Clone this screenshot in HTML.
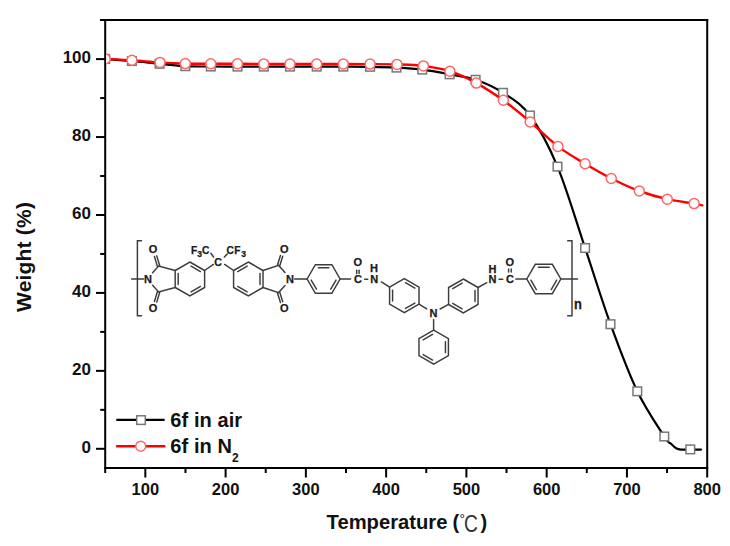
<!DOCTYPE html>
<html><head><meta charset="utf-8"><title>TGA curves</title>
<style>html,body{margin:0;padding:0;background:#fff;width:730px;height:546px;overflow:hidden}
svg{display:block;font-family:"Liberation Sans",sans-serif}</style></head>
<body><svg width="730" height="546" viewBox="0 0 730 546"><g stroke="#000" stroke-width="2" fill="none" stroke-linecap="butt">
<path d="M100,20.1 H708.2"/>
<path d="M105.2,19.1 V473"/>
<path d="M707.2,19.1 V477.5"/>
<path d="M104.2,468 H708.2"/>
<path d="M145.33,468 V477.50"/>
<path d="M185.47,468 V473.00"/>
<path d="M225.60,468 V477.50"/>
<path d="M265.73,468 V473.00"/>
<path d="M305.87,468 V477.50"/>
<path d="M346.00,468 V473.00"/>
<path d="M386.13,468 V477.50"/>
<path d="M426.27,468 V473.00"/>
<path d="M466.40,468 V477.50"/>
<path d="M506.53,468 V473.00"/>
<path d="M546.67,468 V477.50"/>
<path d="M586.80,468 V473.00"/>
<path d="M626.94,468 V477.50"/>
<path d="M667.07,468 V473.00"/>
<path d="M105.2,448.80 H96.00"/>
<path d="M105.2,409.83 H100.20"/>
<path d="M105.2,370.86 H96.00"/>
<path d="M105.2,331.89 H100.20"/>
<path d="M105.2,292.92 H96.00"/>
<path d="M105.2,253.95 H100.20"/>
<path d="M105.2,214.98 H96.00"/>
<path d="M105.2,176.01 H100.20"/>
<path d="M105.2,137.04 H96.00"/>
<path d="M105.2,98.07 H100.20"/>
<path d="M105.2,59.10 H96.00"/>
</g>
<g font-family="Liberation Sans" font-weight="bold" font-size="16.5" fill="#111">
<text x="145.33" y="495" text-anchor="middle">100</text>
<text x="225.60" y="495" text-anchor="middle">200</text>
<text x="305.87" y="495" text-anchor="middle">300</text>
<text x="386.13" y="495" text-anchor="middle">400</text>
<text x="466.40" y="495" text-anchor="middle">500</text>
<text x="546.67" y="495" text-anchor="middle">600</text>
<text x="626.94" y="495" text-anchor="middle">700</text>
<text x="707.20" y="495" text-anchor="middle">800</text>
<text x="91" y="453.00" text-anchor="end" font-size="17">0</text>
<text x="91" y="375.06" text-anchor="end" font-size="17">20</text>
<text x="91" y="297.12" text-anchor="end" font-size="17">40</text>
<text x="91" y="219.18" text-anchor="end" font-size="17">60</text>
<text x="91" y="141.24" text-anchor="end" font-size="17">80</text>
<text x="91" y="63.30" text-anchor="end" font-size="17">100</text>
</g>
<text x="326.6" y="529.4" font-family="Liberation Sans" font-weight="bold" font-size="20.2" fill="#111">Temperature</text>
<text x="452.6" y="529.4" font-family="Liberation Sans" font-weight="bold" font-size="20" fill="#111">(</text>
<circle cx="462.3" cy="516.1" r="1.6" fill="none" stroke="#444" stroke-width="1.0"/>
<text transform="translate(464.0,532.0) scale(0.82,1)" font-family="Liberation Sans" font-size="23.5" fill="#333">C</text>
<text x="480.4" y="529.4" font-family="Liberation Sans" font-weight="bold" font-size="20" fill="#111">)</text>
<text transform="translate(31.2,312.0) rotate(-90)" x="0" y="0" font-family="Liberation Sans" font-weight="bold" font-size="21" letter-spacing="0.2" fill="#111">Weight (%)</text>
<defs><clipPath id="pc"><rect x="106.2" y="21.1" width="600" height="446"/></clipPath></defs>
<g clip-path="url(#pc)">
<path d="M105.20,58.90 C109.65,59.25 122.83,60.18 131.90,61.00 C140.97,61.82 150.70,62.93 159.60,63.80 C168.50,64.67 176.77,65.75 185.30,66.20 C193.83,66.65 202.10,66.43 210.80,66.50 C219.50,66.57 228.67,66.58 237.50,66.60 C246.33,66.62 255.05,66.60 263.80,66.60 C272.55,66.60 281.18,66.60 290.00,66.60 C298.82,66.60 307.82,66.60 316.70,66.60 C325.58,66.60 334.40,66.57 343.30,66.60 C352.20,66.63 361.23,66.63 370.10,66.80 C378.97,66.97 387.80,67.13 396.50,67.60 C405.20,68.07 413.45,68.48 422.30,69.60 C431.15,70.72 440.72,72.60 449.60,74.30 C458.48,76.00 466.70,76.72 475.60,79.80 C484.50,82.88 493.93,86.85 503.00,92.80 C512.07,98.75 520.92,103.20 530.00,115.50 C539.08,127.80 548.32,144.52 557.50,166.60 C566.68,188.68 576.27,221.73 585.10,248.00 C593.93,274.27 601.80,300.32 610.50,324.20 C619.20,348.08 628.33,372.58 637.30,391.30 C646.27,410.02 658.72,427.78 664.30,436.50 C669.88,445.22 668.77,441.60 670.80,443.60 C672.83,445.60 674.63,447.50 676.50,448.50 C678.37,449.50 679.70,449.42 682.00,449.60 C684.30,449.78 687.13,449.60 690.30,449.60 C693.47,449.60 699.22,449.60 701.00,449.60" stroke="#000" stroke-width="2.2" fill="none" stroke-linecap="round" stroke-linejoin="round"/>
<rect x="100.90" y="54.60" width="8.6" height="8.6" fill="#fff" stroke="#777" stroke-width="1.5"/>
<rect x="127.60" y="56.70" width="8.6" height="8.6" fill="#fff" stroke="#777" stroke-width="1.5"/>
<rect x="155.30" y="59.50" width="8.6" height="8.6" fill="#fff" stroke="#777" stroke-width="1.5"/>
<rect x="181.00" y="61.90" width="8.6" height="8.6" fill="#fff" stroke="#777" stroke-width="1.5"/>
<rect x="206.50" y="62.20" width="8.6" height="8.6" fill="#fff" stroke="#777" stroke-width="1.5"/>
<rect x="233.20" y="62.30" width="8.6" height="8.6" fill="#fff" stroke="#777" stroke-width="1.5"/>
<rect x="259.50" y="62.30" width="8.6" height="8.6" fill="#fff" stroke="#777" stroke-width="1.5"/>
<rect x="285.70" y="62.30" width="8.6" height="8.6" fill="#fff" stroke="#777" stroke-width="1.5"/>
<rect x="312.40" y="62.30" width="8.6" height="8.6" fill="#fff" stroke="#777" stroke-width="1.5"/>
<rect x="339.00" y="62.30" width="8.6" height="8.6" fill="#fff" stroke="#777" stroke-width="1.5"/>
<rect x="365.80" y="62.50" width="8.6" height="8.6" fill="#fff" stroke="#777" stroke-width="1.5"/>
<rect x="392.20" y="63.30" width="8.6" height="8.6" fill="#fff" stroke="#777" stroke-width="1.5"/>
<rect x="418.00" y="65.30" width="8.6" height="8.6" fill="#fff" stroke="#777" stroke-width="1.5"/>
<rect x="445.30" y="70.00" width="8.6" height="8.6" fill="#fff" stroke="#777" stroke-width="1.5"/>
<rect x="471.30" y="75.50" width="8.6" height="8.6" fill="#fff" stroke="#777" stroke-width="1.5"/>
<rect x="498.70" y="88.50" width="8.6" height="8.6" fill="#fff" stroke="#777" stroke-width="1.5"/>
<rect x="525.70" y="111.20" width="8.6" height="8.6" fill="#fff" stroke="#777" stroke-width="1.5"/>
<rect x="553.20" y="162.30" width="8.6" height="8.6" fill="#fff" stroke="#777" stroke-width="1.5"/>
<rect x="580.80" y="243.70" width="8.6" height="8.6" fill="#fff" stroke="#777" stroke-width="1.5"/>
<rect x="606.20" y="319.90" width="8.6" height="8.6" fill="#fff" stroke="#777" stroke-width="1.5"/>
<rect x="633.00" y="387.00" width="8.6" height="8.6" fill="#fff" stroke="#777" stroke-width="1.5"/>
<rect x="660.00" y="432.20" width="8.6" height="8.6" fill="#fff" stroke="#777" stroke-width="1.5"/>
<rect x="686.00" y="445.10" width="8.6" height="8.6" fill="#fff" stroke="#777" stroke-width="1.5"/>
<path d="M105.20,58.90 C109.65,59.13 122.77,59.72 131.90,60.30 C141.03,60.88 151.10,61.85 160.00,62.40 C168.90,62.95 176.83,63.37 185.30,63.60 C193.77,63.83 202.10,63.77 210.80,63.80 C219.50,63.83 228.67,63.78 237.50,63.80 C246.33,63.82 255.05,63.87 263.80,63.90 C272.55,63.93 281.18,63.98 290.00,64.00 C298.82,64.02 307.82,64.00 316.70,64.00 C325.58,64.00 334.40,63.98 343.30,64.00 C352.20,64.02 361.15,64.03 370.10,64.10 C379.05,64.17 388.12,64.10 397.00,64.40 C405.88,64.70 414.58,64.77 423.40,65.90 C432.22,67.03 441.08,68.33 449.90,71.20 C458.72,74.07 467.40,78.25 476.30,83.10 C485.20,87.95 494.32,93.83 503.30,100.30 C512.28,106.77 521.10,114.22 530.20,121.90 C539.30,129.58 548.75,139.42 557.90,146.40 C567.05,153.38 576.20,158.45 585.10,163.80 C594.00,169.15 602.27,173.97 611.30,178.50 C620.33,183.03 629.97,187.55 639.30,191.00 C648.63,194.45 658.17,197.10 667.30,199.20 C676.43,201.30 688.27,202.57 694.10,203.60 C699.93,204.63 700.93,205.10 702.30,205.40" stroke="#ff0000" stroke-width="2.4" fill="none" stroke-linecap="round" stroke-linejoin="round"/>
<circle cx="105.20" cy="58.90" r="5.0" fill="#fff" stroke="#ff6666" stroke-width="1.5"/>
<circle cx="131.90" cy="60.30" r="5.0" fill="#fff" stroke="#ff6666" stroke-width="1.5"/>
<circle cx="160.00" cy="62.40" r="5.0" fill="#fff" stroke="#ff6666" stroke-width="1.5"/>
<circle cx="185.30" cy="63.60" r="5.0" fill="#fff" stroke="#ff6666" stroke-width="1.5"/>
<circle cx="210.80" cy="63.80" r="5.0" fill="#fff" stroke="#ff6666" stroke-width="1.5"/>
<circle cx="237.50" cy="63.80" r="5.0" fill="#fff" stroke="#ff6666" stroke-width="1.5"/>
<circle cx="263.80" cy="63.90" r="5.0" fill="#fff" stroke="#ff6666" stroke-width="1.5"/>
<circle cx="290.00" cy="64.00" r="5.0" fill="#fff" stroke="#ff6666" stroke-width="1.5"/>
<circle cx="316.70" cy="64.00" r="5.0" fill="#fff" stroke="#ff6666" stroke-width="1.5"/>
<circle cx="343.30" cy="64.00" r="5.0" fill="#fff" stroke="#ff6666" stroke-width="1.5"/>
<circle cx="370.10" cy="64.10" r="5.0" fill="#fff" stroke="#ff6666" stroke-width="1.5"/>
<circle cx="397.00" cy="64.40" r="5.0" fill="#fff" stroke="#ff6666" stroke-width="1.5"/>
<circle cx="423.40" cy="65.90" r="5.0" fill="#fff" stroke="#ff6666" stroke-width="1.5"/>
<circle cx="449.90" cy="71.20" r="5.0" fill="#fff" stroke="#ff6666" stroke-width="1.5"/>
<circle cx="476.30" cy="83.10" r="5.0" fill="#fff" stroke="#ff6666" stroke-width="1.5"/>
<circle cx="503.30" cy="100.30" r="5.0" fill="#fff" stroke="#ff6666" stroke-width="1.5"/>
<circle cx="530.20" cy="121.90" r="5.0" fill="#fff" stroke="#ff6666" stroke-width="1.5"/>
<circle cx="557.90" cy="146.40" r="5.0" fill="#fff" stroke="#ff6666" stroke-width="1.5"/>
<circle cx="585.10" cy="163.80" r="5.0" fill="#fff" stroke="#ff6666" stroke-width="1.5"/>
<circle cx="611.30" cy="178.50" r="5.0" fill="#fff" stroke="#ff6666" stroke-width="1.5"/>
<circle cx="639.30" cy="191.00" r="5.0" fill="#fff" stroke="#ff6666" stroke-width="1.5"/>
<circle cx="667.30" cy="199.20" r="5.0" fill="#fff" stroke="#ff6666" stroke-width="1.5"/>
<circle cx="694.10" cy="203.60" r="5.0" fill="#fff" stroke="#ff6666" stroke-width="1.5"/>
</g>
<path d="M116.3,419.9 H164.6" stroke="#000" stroke-width="2.2"/>
<rect x="136.7" y="415.8" width="8.6" height="8.6" fill="#fff" stroke="#777" stroke-width="1.5"/>
<path d="M116.1,446.3 H165.4" stroke="#ff0000" stroke-width="2.4"/>
<circle cx="140.7" cy="446.3" r="5.0" fill="#fff" stroke="#ff6666" stroke-width="1.5"/>
<g font-family="Liberation Sans" font-weight="bold" font-size="20" fill="#111" word-spacing="0.3">
<text x="170.3" y="426.9">6f in air</text>
<text x="170.3" y="453.0">6f in N<tspan font-size="12" dy="8.9">2</tspan></text>
</g>
<g stroke="#3c3c3c" stroke-width="1.45" fill="none" stroke-linecap="round"><path d="M141.5,240.7 H137.4 V315.7 H141.5"/><path d="M131.60,279.00 L143.60,279.00"/><path d="M189.90,262.00 L204.62,270.50 L204.62,287.50 L189.90,296.00 L175.18,287.50 L175.18,270.50 Z"/><path d="M191.05,266.13 L200.47,271.57"/><path d="M200.47,286.43 L191.05,291.87"/><path d="M178.18,284.44 L178.18,273.56"/><path d="M152.6,272.8 L158.6,266.1 L175.18,270.50"/><path d="M152.6,285.2 L158.6,291.9 L175.18,287.50"/><path d="M159.75,265.75 L156.75,255.85"/><path d="M157.45,266.45 L154.45,256.55"/><path d="M157.45,291.55 L154.45,301.45"/><path d="M159.75,292.25 L156.75,302.15"/><path d="M204.62,270.50 L213.40,264.40"/><path d="M248.30,262.00 L263.02,270.50 L263.02,287.50 L248.30,296.00 L233.58,287.50 L233.58,270.50 Z"/><path d="M260.02,273.56 L260.02,284.44"/><path d="M247.15,291.87 L237.73,286.43"/><path d="M237.73,271.57 L247.15,266.13"/><path d="M224.60,264.40 L233.58,270.50"/><path d="M210.90,253.30 L213.60,257.00"/><path d="M224.40,256.90 L227.20,253.90"/><path d="M263.02,270.50 L278.6,265.4 L285.0,272.5"/><path d="M263.02,287.50 L278.6,292.6 L285.0,285.5"/><path d="M279.75,265.76 L282.75,256.16"/><path d="M277.45,265.04 L280.45,255.44"/><path d="M277.45,292.96 L280.45,302.56"/><path d="M279.75,292.24 L282.75,301.84"/><path d="M294.60,279.00 L307.10,279.00"/><path d="M307.10,279.00 L315.35,264.71 L331.85,264.71 L340.10,279.00 L331.85,293.29 L315.35,293.29 Z"/><path d="M318.32,267.71 L328.88,267.71"/><path d="M336.02,280.07 L330.74,289.22"/><path d="M316.46,289.22 L311.18,280.07"/><path d="M340.10,279.00 L350.60,279.00"/><path d="M356.70,270.20 L356.70,273.50"/><path d="M359.10,270.20 L359.10,273.50"/><path d="M364.60,279.20 L367.80,279.20"/><path d="M381.40,281.90 L389.60,287.10"/><path d="M404.30,278.60 L419.02,287.10 L419.02,304.10 L404.30,312.60 L389.58,304.10 L389.58,287.10 Z"/><path d="M405.45,282.73 L414.87,288.17"/><path d="M414.87,303.03 L405.45,308.47"/><path d="M392.58,301.04 L392.58,290.16"/><path d="M419.02,304.10 L426.70,308.90"/><path d="M440.10,309.00 L448.50,304.40"/><path d="M463.30,279.00 L478.02,287.50 L478.02,304.50 L463.30,313.00 L448.58,304.50 L448.58,287.50 Z"/><path d="M475.02,290.56 L475.02,301.44"/><path d="M462.15,308.87 L452.73,303.43"/><path d="M452.73,288.57 L462.15,283.13"/><path d="M433.60,319.60 L433.60,330.20"/><path d="M433.70,330.20 L448.42,338.70 L448.42,355.70 L433.70,364.20 L418.98,355.70 L418.98,338.70 Z"/><path d="M445.42,341.76 L445.42,352.64"/><path d="M432.55,360.07 L423.13,354.63"/><path d="M423.13,339.77 L432.55,334.33"/><path d="M478.02,287.50 L486.80,282.70"/><path d="M499.00,279.20 L502.80,279.20"/><path d="M508.60,269.00 L508.60,272.00"/><path d="M511.20,269.00 L511.20,272.00"/><path d="M515.80,279.00 L526.80,279.00"/><path d="M526.80,279.00 L535.30,264.28 L552.30,264.28 L560.80,279.00 L552.30,293.72 L535.30,293.72 Z"/><path d="M538.36,267.28 L549.24,267.28"/><path d="M556.67,280.15 L551.23,289.57"/><path d="M536.37,289.57 L530.93,280.15"/><path d="M560.80,279.00 L577.60,279.00"/><path d="M567.7,240.7 H572.0 V315.7 H567.7"/></g>
<g font-family="Liberation Sans" font-weight="bold" fill="#1a1a1a" stroke="#1a1a1a" stroke-width="0.25"><text x="148.00" y="282.70" text-anchor="middle" font-size="11.0">N</text><text x="153.00" y="253.10" text-anchor="middle" font-size="11.0">O</text><text x="153.00" y="312.00" text-anchor="middle" font-size="11.0">O</text><text x="191.00" y="253.50" text-anchor="start" font-size="10.2">F<tspan font-size="8.6" dy="3.0">3</tspan><tspan dy="-3.0">C</tspan></text><text x="226.40" y="253.50" text-anchor="start" font-size="10.2">C<tspan dx="0.4">F</tspan><tspan font-size="8.6" dx="0.8" dy="3.0">3</tspan></text><text x="218.10" y="266.00" text-anchor="middle" font-size="10.6">C</text><text x="290.10" y="282.70" text-anchor="middle" font-size="11.0">N</text><text x="284.30" y="252.80" text-anchor="middle" font-size="11.0">O</text><text x="284.30" y="312.00" text-anchor="middle" font-size="11.0">O</text><text x="357.90" y="282.70" text-anchor="middle" font-size="11.0">C</text><text x="357.90" y="266.00" text-anchor="middle" font-size="11.0">O</text><text x="374.20" y="282.70" text-anchor="middle" font-size="11.0">N</text><text x="374.00" y="272.20" text-anchor="middle" font-size="11.0">H</text><text x="433.40" y="316.60" text-anchor="middle" font-size="11.0">N</text><text x="492.60" y="282.50" text-anchor="middle" font-size="11.0">N</text><text x="492.60" y="272.80" text-anchor="middle" font-size="11.0">H</text><text x="509.90" y="282.50" text-anchor="middle" font-size="11.0">C</text><text x="509.90" y="265.90" text-anchor="middle" font-size="11.0">O</text><text transform="translate(574.0,309.3) scale(0.92,1)" font-size="14">n</text></g></svg></body></html>
